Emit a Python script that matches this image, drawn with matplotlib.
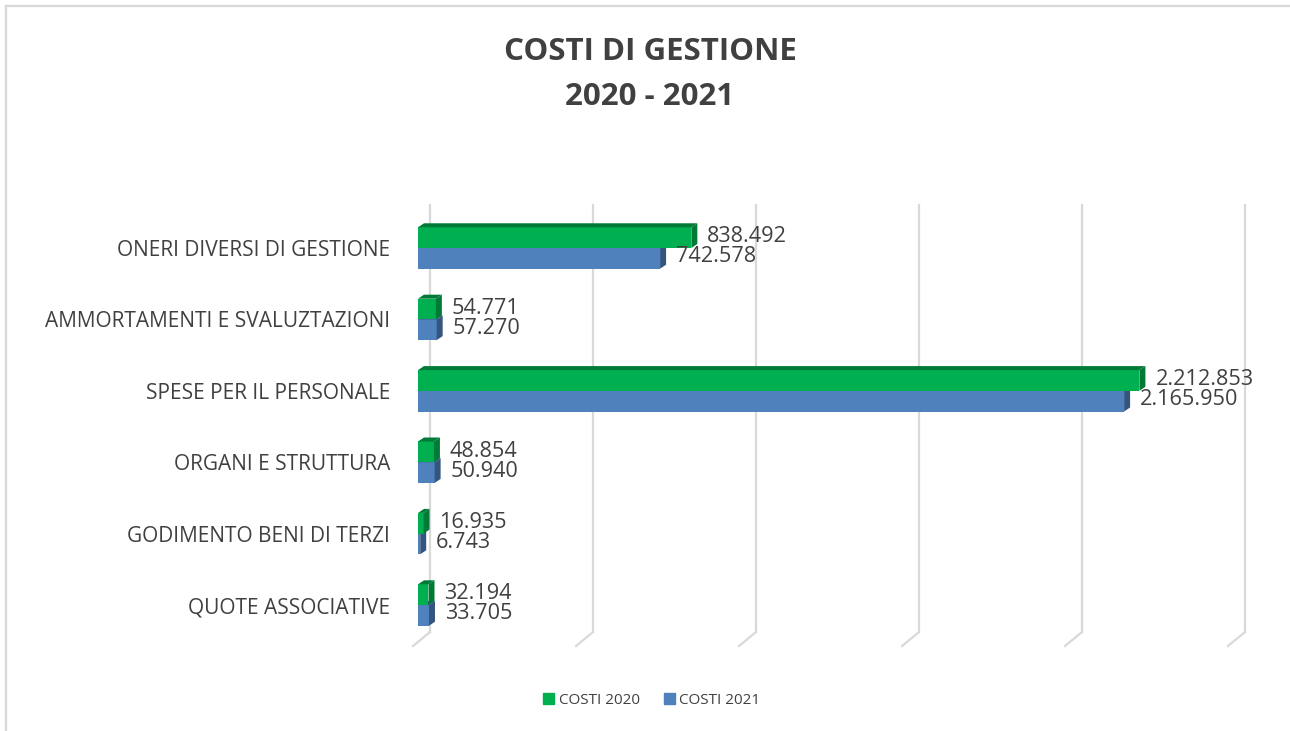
import numpy as np
import matplotlib
matplotlib.use("Agg")
import matplotlib.pyplot as plt
import matplotlib.transforms as mtransforms
from matplotlib.patches import Polygon, Patch
from matplotlib.lines import Line2D

# data (bottom -> top, as drawn)
categories = ["QUOTE ASSOCIATIVE", "GODIMENTO BENI DI TERZI", "ORGANI E STRUTTURA",
              "SPESE PER IL PERSONALE", "AMMORTAMENTI E SVALUZTAZIONI",
              "ONERI DIVERSI DI GESTIONE"]
costi_2020 = [32194, 16935, 48854, 2212853, 54771, 838492]
costi_2021 = [33705, 6743, 50940, 2165950, 57270, 742578]
ticks = [0, 500000, 1000000, 1500000, 2000000, 2500000]

GREEN, GREEN_DARK = "#00B050", "#007A36"
BLUE, BLUE_DARK = "#4F81BD", "#34557F"
TXT = "#404040"
FONT = "Open Sans"

W, H = 1290, 731
fig = plt.figure(figsize=(W / 100, H / 100), dpi=100)
ax = fig.add_axes([418 / W, (H - 646) / H, 815 / W, 441 / H])

ax.set_xlim(0, 2500000)
ax.set_ylim(-0.574, 5.602)
for s in ax.spines.values():
    s.set_visible(False)
ax.set_xticks([])
ax.set_yticks(range(len(categories)))
ax.set_yticklabels(categories, fontsize=15, color=TXT, family=FONT)
ax.tick_params(axis="y", length=0, pad=20)

# 3D-looking gridlines: back wall + floor diagonal
y_floor_back = -0.378
for t in ticks:
    back = mtransforms.offset_copy(ax.transData, fig=fig, x=12, y=0, units="dots")
    front = mtransforms.offset_copy(ax.transData, fig=fig, x=-5, y=0, units="dots")
    ax.add_line(Line2D([t, t], [5.602, y_floor_back], transform=back,
                       color="#D9D9D9", lw=1.6, clip_on=False, zorder=0))
    p1 = back.transform((t, y_floor_back))
    p2 = front.transform((t, -0.574))
    ax.add_line(Line2D([p1[0], p2[0]], [p1[1], p2[1]],
                       transform=mtransforms.IdentityTransform(),
                       color="#D9D9D9", lw=1.6, clip_on=False, zorder=0))

h = 0.29
y = np.arange(len(categories))
dx, dy = 6, 4


def bar3d(vals, y0, color, dark, z):
    ax.barh(y0, vals, height=h, align="edge", color=color, zorder=z)
    for v, yy in zip(vals, y0):
        x0, ylo = ax.transData.transform((0, yy))
        x1, yhi = ax.transData.transform((v, yy + h))
        top = [(x0, yhi), (x1, yhi), (x1 + dx, yhi + dy), (x0 + dx, yhi + dy)]
        side = [(x1, ylo), (x1, yhi), (x1 + dx, yhi + dy), (x1 + dx, ylo + dy)]
        for pts in (top, side):
            ax.add_patch(Polygon(pts, closed=True, facecolor=dark, edgecolor="none",
                                 transform=mtransforms.IdentityTransform(),
                                 zorder=z, clip_on=False))


bar3d(costi_2021, y - h, BLUE, BLUE_DARK, 2)
bar3d(costi_2020, y, GREEN, GREEN_DARK, 3)


def fmt(v):
    return f"{v:,}".replace(",", ".")


for v, yy in zip(costi_2020, y):
    ax.annotate(fmt(v), (v, yy + h / 2 + 0.01), xytext=(16, 0), textcoords="offset pixels",
                va="center", ha="left", fontsize=15.6, color=TXT, family=FONT)
for v, yy in zip(costi_2021, y):
    ax.annotate(fmt(v), (v, yy - h / 2 + 0.02), xytext=(16, 0), textcoords="offset pixels",
                va="center", ha="left", fontsize=15.6, color=TXT, family=FONT)

fig.text(650 / W, 1 - 52 / H, "COSTI DI GESTIONE", ha="center", va="center",
         fontsize=22.5, fontweight="bold", color=TXT, family=FONT)
fig.text(650 / W, 1 - 97 / H, "2020 - 2021", ha="center", va="center",
         fontsize=22.5, fontweight="bold", color=TXT, family=FONT)

handles = [Patch(color=GREEN, label="COSTI 2020"), Patch(color=BLUE, label="COSTI 2021")]
fig.legend(handles=handles, loc="center", bbox_to_anchor=(652 / W, 1 - 700 / H), ncol=2,
           frameon=False, prop={"family": FONT, "size": 11}, labelcolor=TXT,
           handlelength=0.7, handleheight=0.7, handletextpad=0.3, columnspacing=1.6)

# chart area border (top and left visible)
fig.add_artist(Line2D([6 / W, 1], [1 - 6 / H, 1 - 6 / H], transform=fig.transFigure,
                      color="#D9D9D9", lw=1.6))
fig.add_artist(Line2D([6 / W, 6 / W], [0, 1 - 6 / H], transform=fig.transFigure,
                      color="#D9D9D9", lw=1.6))

fig.savefig("out.png", dpi=100)
